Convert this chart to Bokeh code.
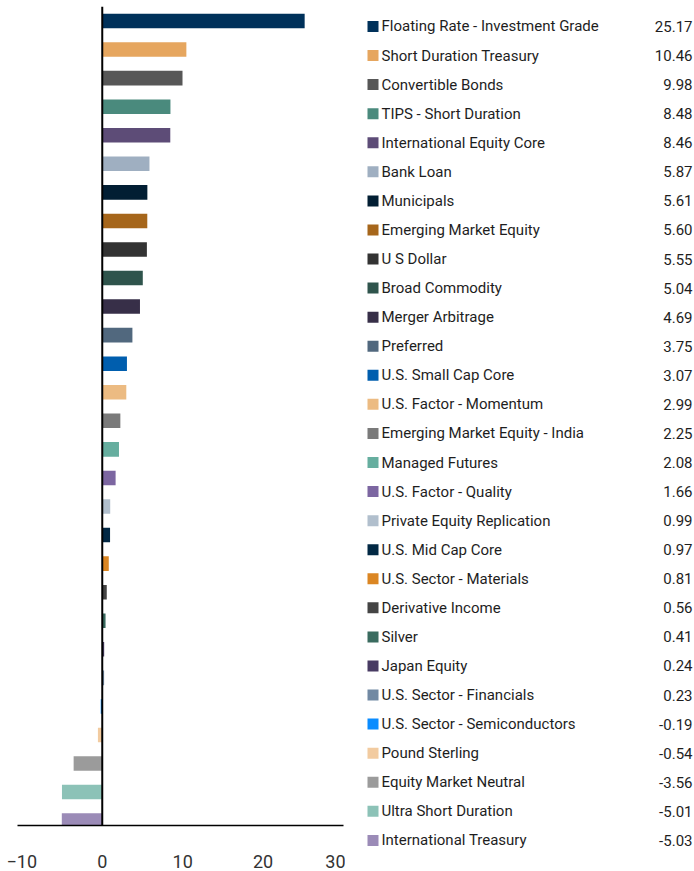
from bokeh.plotting import figure
from bokeh.layouts import row
from bokeh.models import Range1d, FixedTicker, Span, ColumnDataSource
from bokeh.core.properties import value
from bokeh.embed import file_html
from bokeh.resources import INLINE

categories = [
    "Floating Rate - Investment Grade", "Short Duration Treasury", "Convertible Bonds",
    "TIPS - Short Duration", "International Equity Core", "Bank Loan", "Municipals",
    "Emerging Market Equity", "U S Dollar", "Broad Commodity", "Merger Arbitrage",
    "Preferred", "U.S. Small Cap Core", "U.S. Factor - Momentum",
    "Emerging Market Equity - India", "Managed Futures", "U.S. Factor - Quality",
    "Private Equity Replication", "U.S. Mid Cap Core", "U.S. Sector - Materials",
    "Derivative Income", "Silver", "Japan Equity", "U.S. Sector - Financials",
    "U.S. Sector - Semiconductors", "Pound Sterling", "Equity Market Neutral",
    "Ultra Short Duration", "International Treasury",
]
values = [25.17, 10.46, 9.98, 8.48, 8.46, 5.87, 5.61, 5.60, 5.55, 5.04, 4.69, 3.75,
          3.07, 2.99, 2.25, 2.08, 1.66, 0.99, 0.97, 0.81, 0.56, 0.41, 0.24, 0.23,
          -0.19, -0.54, -3.56, -5.01, -5.03]
colors = ["#00315A", "#E6A65F", "#575757", "#4A8A7D", "#5D4C77", "#9FAFC1", "#021E33",
          "#A6661B", "#333333", "#2F544C", "#372F48", "#51687E", "#005EAE", "#ECBB82",
          "#7A7A7A", "#66AE9F", "#7C66A1", "#B1BFCD", "#022844", "#DB8623", "#444444",
          "#3A6B5F", "#483B63", "#7189A3", "#0A8CFF", "#F2CBA0", "#9B9B9B", "#8CC2B7",
          "#9B8BB7"]
x_ticks = [-10, 0, 10, 20, 30]

FONT = "Roboto"
TXT = "#1E1E1E"

idx = list(range(len(categories)))
src = ColumnDataSource(dict(
    y=idx, v=values, c=colors, cat=categories,
    lab=[f"{v:.2f}" for v in values],
))

# ---- bar figure ----
p = figure(width=345, height=871, output_backend="svg", toolbar_location=None,
           x_range=Range1d(-10.54, 30.0), y_range=Range1d(28.17, -0.508),
           min_border_left=17, min_border_right=2, min_border_top=6, min_border_bottom=46)
p.frame_align = False
p.hbar(y="y", left=0, right="v", height=0.51, color="c", source=src, line_color=None)
p.add_layout(Span(location=0, dimension="height", line_color="black", line_width=2))
p.yaxis.visible = False
p.xgrid.visible = False
p.ygrid.visible = False
p.outline_line_color = None
p.xaxis.ticker = FixedTicker(ticks=x_ticks)
p.xaxis.major_tick_out = 0
p.xaxis.major_tick_in = 0
p.xaxis.minor_tick_out = 0
p.xaxis.minor_tick_in = 0
p.xaxis.axis_line_color = "black"
p.xaxis.axis_line_width = 1.5
p.xaxis.major_label_standoff = 29
p.xaxis.major_label_text_font = FONT
p.xaxis.major_label_text_font_size = "18px"
p.xaxis.major_label_text_color = "#333333"

# ---- legend figure ----
L = figure(width=349, height=871, output_backend="svg", toolbar_location=None,
           x_range=Range1d(0, 349), y_range=Range1d(29.07, -0.894),
           min_border_left=0, min_border_right=0, min_border_top=0, min_border_bottom=0)
L.frame_align = False
L.axis.visible = False
L.grid.visible = False
L.outline_line_color = None
L.scatter(x=27.5, y="y", marker="square", size=11, color="c", line_color=None, source=src)
L.text(x=36, y="y", text="cat", source=src, text_baseline="middle", text_align="left",
       text_font=value(FONT), text_font_size="15px", text_color=TXT)
L.text(x=347, y="y", text="lab", source=src, text_baseline="middle", text_align="right",
       text_font=value(FONT), text_font_size="15px", text_color=TXT)

layout = row(p, L, spacing=0)
open("out.html", "w").write(file_html(layout, INLINE))
